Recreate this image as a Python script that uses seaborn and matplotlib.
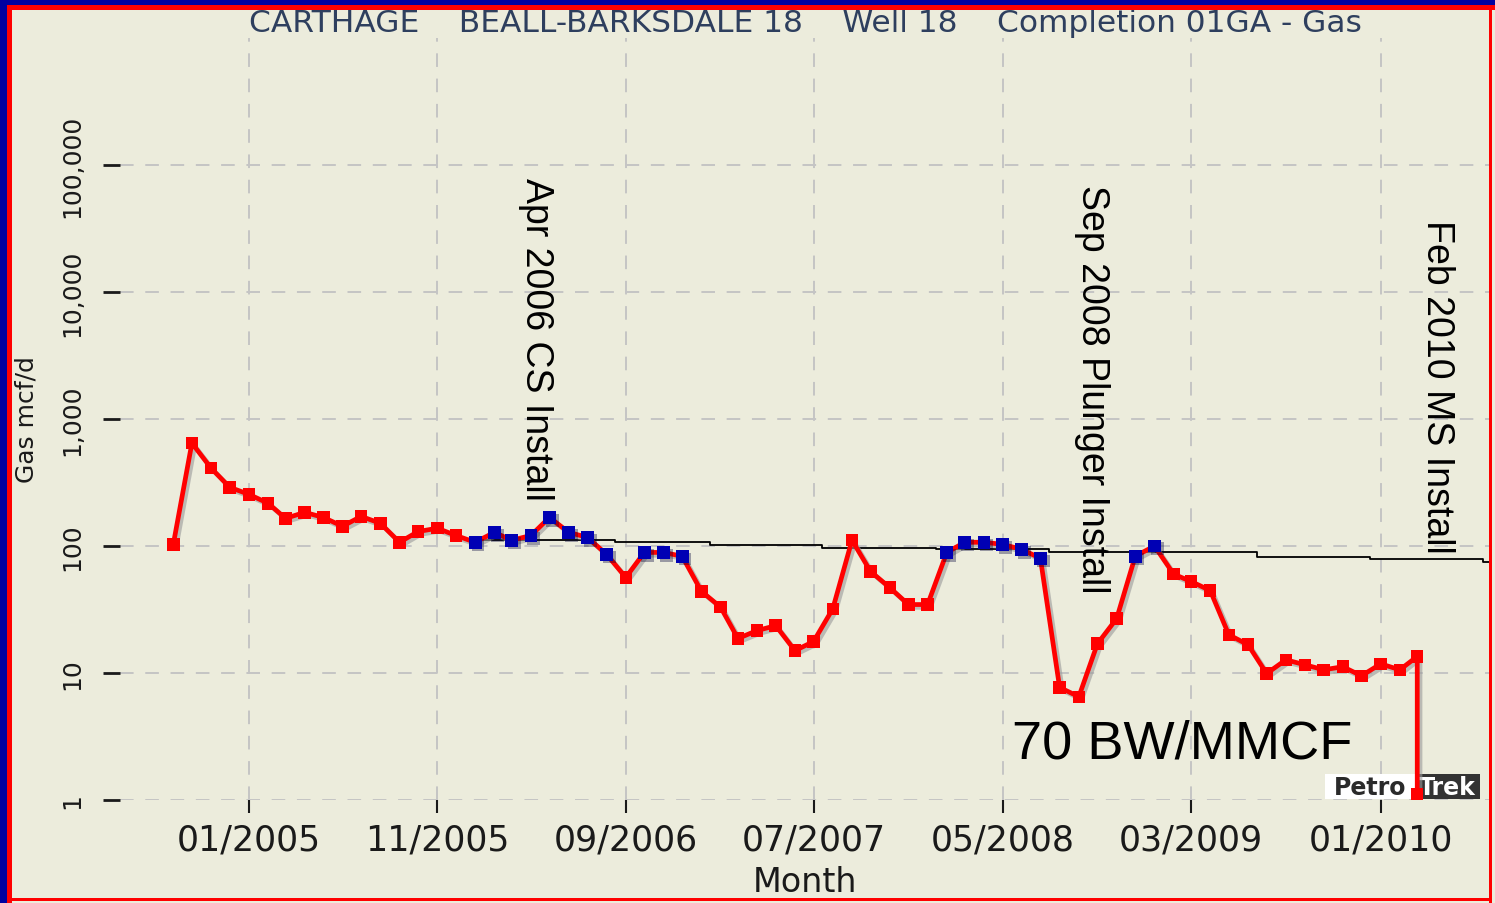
import matplotlib
matplotlib.use('Agg')
import pandas as pd
import seaborn as sns
import matplotlib.pyplot as plt
import matplotlib.dates as mdates
import matplotlib.patheffects as pe
import matplotlib.transforms as mtransforms
from matplotlib.patches import Rectangle

# monthly gas rate, Sep 2004 .. Mar 2010 (mcf/d), then shut-in drop
gas = [103, 646, 410, 290,
       255, 217, 165, 184, 168, 143, 171, 151, 107, 130, 138, 121,
       107, 128, 111, 121, 168, 128, 117, 86, 56.5, 89, 89, 83,
       44, 33, 18.7, 21.6, 23.6, 15, 17.7, 32, 111, 63, 47, 34.6,
       34.6, 89, 107, 107, 103, 94, 80, 7.7, 6.5, 17, 26.8, 83,
       100, 60, 52.6, 44.6, 20, 16.7, 9.9, 12.7, 11.6, 10.6, 11.2, 9.5,
       11.8, 10.6, 13.5]
# 1 = blue marker (near trend), 0 = red marker
flag = [0, 0, 0, 0,
        0, 0, 0, 0, 0, 0, 0, 0, 0, 0, 0, 0,
        1, 1, 1, 1, 1, 1, 1, 1, 0, 1, 1, 1,
        0, 0, 0, 0, 0, 0, 0, 0, 0, 0, 0, 0,
        0, 1, 1, 1, 1, 1, 1, 0, 0, 0, 0, 1,
        1, 0, 0, 0, 0, 0, 0, 0, 0, 0, 0, 0,
        0, 0, 0]
shutin_date = '2010-03-01'
shutin_gas = 1.1

trend_dates = ['2006-01-01', '2006-08-15', '2007-01-15', '2007-07-15', '2008-01-15',
               '2008-07-15', '2009-06-15', '2009-12-15', '2010-06-15', '2010-08-01']
trend_vals = [112, 107, 101.6, 96.3, 95, 89.5, 82.6, 78.9, 75.5, 75.5]

tick_dates = ['2005-01-01', '2005-11-01', '2006-09-01', '2007-07-01',
              '2008-05-01', '2009-03-01', '2010-01-01']
ytick_vals = [1, 10, 100, 1000, 10000, 100000]
ytick_labels = ['1', '10', '100', '1,000', '10,000', '100,000']

events = [('2006-04-09', 'Apr 2006 CS Install', 0.818),
          ('2008-09-22', 'Sep 2008 Plunger Install', 0.808),
          ('2010-04-02', 'Feb 2010 MS Install', 0.762)]

months = list(pd.date_range('2004-09-01', periods=len(gas), freq='MS'))
df = pd.DataFrame({'date': months + [pd.Timestamp(shutin_date)],
                   'gas': gas + [shutin_gas],
                   'flag': flag + [0]})
trend = pd.DataFrame({'date': pd.to_datetime(trend_dates), 'gas': trend_vals})

BG = '#ECECDC'
W, H = 1495, 904
fig = plt.figure(figsize=(W / 100, H / 100), dpi=100)
fig.patch.set_facecolor(BG)


def band(x0, y0, w, h, c, z=5):
    fig.patches.append(Rectangle((x0 / W, 1 - (y0 + h) / H), w / W, h / H,
                                 transform=fig.transFigure, color=c, lw=0, zorder=z))


band(0, 0, W, 6, '#0000A0')
band(0, 0, 7, H, '#0000A0')
band(7, 6, W - 7, 5, '#FF0000')
band(7, 6, 5, H - 6, '#FF0000')
band(1489, 6, 3, H - 6, '#FF0000')
band(7, 899, 1485, 3, '#FF0000')

ax = fig.add_axes([120 / W, (H - 801) / H, (1491 - 120) / W, (801 - 39) / H])
ax.set_facecolor(BG)

shadow = [pe.SimpleLineShadow(offset=(2, -2), shadow_color='#9a9a9a', alpha=0.6), pe.Normal()]

sns.lineplot(data=trend, x='date', y='gas', ax=ax, color='black', lw=1.3,
             drawstyle='steps-post', estimator=None, sort=False, zorder=3)
sns.lineplot(data=df, x='date', y='gas', ax=ax, color='#FF0000', lw=3.4,
             marker='s', markersize=9, markeredgewidth=0,
             estimator=None, sort=False, zorder=4, path_effects=shadow)
sns.scatterplot(data=df[df['flag'] == 1], x='date', y='gas', ax=ax,
                color='#0000B4', marker='s', s=85, linewidth=0, zorder=5)
ax.collections[-1].set_path_effects([pe.SimplePatchShadow(offset=(2, -2), alpha=0.35), pe.Normal()])

ax.set_yscale('log')
ax.set_ylim(1, 1e6)
ax.set_xlim(pd.Timestamp('2004-06-07'), pd.Timestamp('2010-06-28'))

ax.set_yticks(ytick_vals)
ax.set_yticklabels(ytick_labels, rotation=90, va='center')
ax.yaxis.set_minor_locator(matplotlib.ticker.NullLocator())
ax.set_xticks(pd.to_datetime(tick_dates))
ax.xaxis.set_major_formatter(mdates.DateFormatter('%m/%Y'))

for s in ax.spines.values():
    s.set_visible(False)
ax.grid(True, color='#C4C4C4', lw=1.4, linestyle=(0, (7, 6)))
ax.set_axisbelow(True)

ax.tick_params(axis='x', length=9, width=1.5, pad=7, labelsize=25,
               colors='#1a1a1a')
ax.tick_params(axis='y', length=12, width=2, pad=14, labelsize=18,
               colors='#1a1a1a')

ax.set_xlabel('Month', fontsize=24, color='#1a1a1a', labelpad=6)
ax.set_ylabel('Gas mcf/d', fontsize=18, color='#1a1a1a')
ax.yaxis.set_label_coords(-0.0598, 0.5)

fig.text(805 / W, 1 - 23 / H,
         'CARTHAGE    BEALL-BARKSDALE 18    Well 18    Completion 01GA - Gas',
         ha='center', va='center', fontsize=22.5, color='#2E3F5E')

blend = mtransforms.blended_transform_factory(ax.transData, ax.transAxes)
for d, txt, ytop in events:
    ax.text(pd.Timestamp(d), ytop, txt, transform=blend, rotation=270,
            ha='center', va='top', fontsize=27, family='Liberation Sans',
            color='black')

ax.text(0.7746, 0.0735, '70 BW/MMCF', transform=ax.transAxes, ha='center',
        va='center', fontsize=39, family='Liberation Sans', color='black')

# PetroTrek logo, under the production line
for x0, w, c in [(1325, 90, 'white'), (1415, 65, '#333333')]:
    ax.add_patch(Rectangle((x0 / W, 1 - 800 / H), w / W, 25 / H,
                           transform=fig.transFigure, color=c, lw=0, zorder=3.5,
                           clip_on=False))
ax.text(1370 / W, 1 - 788 / H, 'Petro', transform=fig.transFigure, ha='center',
        va='center', fontsize=17, fontweight='bold', color='#2a2a2a', zorder=3.6)
ax.text(1447 / W, 1 - 788 / H, 'Trek', transform=fig.transFigure, ha='center',
        va='center', fontsize=17, fontweight='bold', color='white', zorder=3.6)

fig.savefig('out.png', dpi=100, facecolor=BG)
